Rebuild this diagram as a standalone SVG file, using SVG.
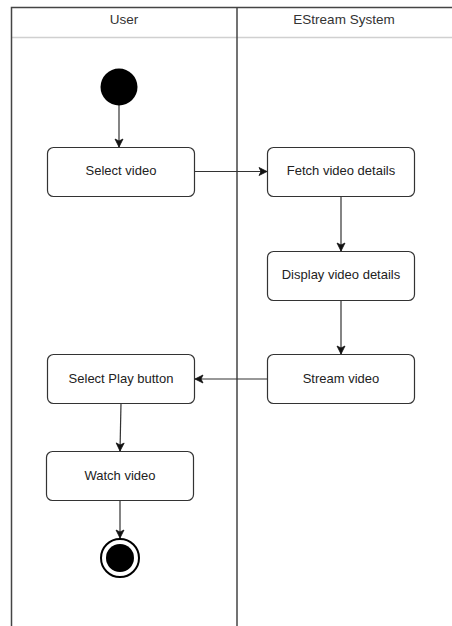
<svg xmlns="http://www.w3.org/2000/svg" width="452" height="626" viewBox="0 0 452 626">
<style>
.lane{fill:none;stroke:#444;stroke-width:1.5}
.hdr{stroke:#d0d0d0;stroke-width:1.5}
.act{fill:#fff;stroke:#333;stroke-width:1.2}
.t{font-family:"Liberation Sans",Arial,sans-serif;font-size:13px;fill:#222;text-anchor:middle;dominant-baseline:central}
.h{font-family:"Liberation Sans",Arial,sans-serif;font-size:13.5px;fill:#333;text-anchor:middle;dominant-baseline:central}
.c{fill:none;stroke:#333;stroke-width:1.2;marker-end:url(#ah)}
</style>
<defs>
<marker id="ah" markerWidth="10" markerHeight="10" refX="9" refY="5" orient="auto" markerUnits="userSpaceOnUse">
<path d="M1,1 L9,5 L1,9 L3,5 Z" fill="#111" stroke="#111" stroke-width="0.8"/>
</marker>
</defs>
<rect width="452" height="626" fill="#fff"/>
<g id="pool">
<line class="hdr" x1="12" y1="37.5" x2="452" y2="37.5"/>
<path class="lane" d="M11.5,626 V7.5 H452"/>
<line class="lane" x1="237" y1="7.5" x2="237" y2="626"/>
<text class="h" x="124" y="19">User</text>
<text class="h" x="344" y="19">EStream System</text>
</g>
<g id="connectors">
<line class="c" x1="119" y1="105" x2="119" y2="147"/>
<line class="c" x1="194" y1="171.5" x2="267" y2="171.5"/>
<line class="c" x1="341" y1="196" x2="341" y2="251"/>
<line class="c" x1="341" y1="300" x2="341" y2="354"/>
<line class="c" x1="267" y1="379" x2="195" y2="379"/>
<line class="c" x1="121" y1="403" x2="120" y2="451"/>
<line class="c" x1="120" y1="501" x2="120" y2="538"/>
</g>
<g id="start"><circle cx="119" cy="87" r="18.5" fill="#000"/></g>
<g id="select-video"><rect class="act" x="47.5" y="147.5" width="147" height="49" rx="6"/><text class="t" x="121" y="170">Select video</text></g>
<g id="fetch-video-details"><rect class="act" x="267.5" y="147.5" width="147" height="49" rx="6"/><text class="t" x="341" y="170">Fetch video details</text></g>
<g id="display-video-details"><rect class="act" x="267.5" y="251.5" width="147" height="49" rx="6"/><text class="t" x="341" y="274">Display video details</text></g>
<g id="stream-video"><rect class="act" x="267.5" y="354.5" width="147" height="49" rx="6"/><text class="t" x="341" y="378">Stream video</text></g>
<g id="select-play-button"><rect class="act" x="47.5" y="354.5" width="147" height="49" rx="6"/><text class="t" x="121" y="378">Select Play button</text></g>
<g id="watch-video"><rect class="act" x="46.5" y="451.5" width="147" height="49" rx="6"/><text class="t" x="120" y="475">Watch video</text></g>
<g id="end"><circle cx="120" cy="558" r="19" fill="#fff" stroke="#000" stroke-width="2"/><circle cx="120" cy="558" r="14" fill="#000"/></g>
</svg>
